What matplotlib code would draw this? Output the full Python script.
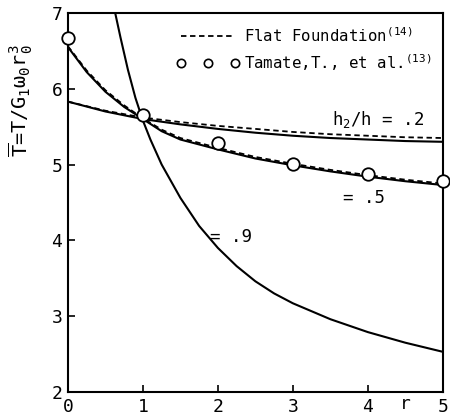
import matplotlib
matplotlib.use("Agg")
import matplotlib.pyplot as plt
from matplotlib.lines import Line2D

plt.rcParams['font.family'] = 'DejaVu Sans Mono'
plt.rcParams['mathtext.fontset'] = 'custom'
plt.rcParams['mathtext.rm'] = 'DejaVu Sans Mono'
plt.rcParams['mathtext.it'] = 'DejaVu Sans Mono'

# h2/h = .2
g_02 = [0.0, 0.5, 1.0, 1.5, 2.0, 2.5, 3.0, 3.5, 4.0, 4.5, 5.0]
t_02 = [5.83, 5.70, 5.60, 5.53, 5.47, 5.42, 5.38, 5.35, 5.33, 5.31, 5.30]
t_02_flat = [5.83, 5.71, 5.62, 5.56, 5.51, 5.47, 5.43, 5.40, 5.38, 5.36, 5.35]

# h2/h = .5
g_05 = [0.0, 0.25, 0.5, 0.75, 1.0, 1.25, 1.5, 2.0, 2.5, 3.0, 3.5, 4.0, 4.5, 5.0]
t_05 = [6.55, 6.22, 5.96, 5.76, 5.60, 5.44, 5.33, 5.20, 5.08, 4.99, 4.91, 4.84, 4.78, 4.73]
t_05_flat = [6.56, 6.24, 5.98, 5.78, 5.61, 5.46, 5.35, 5.22, 5.10, 5.01, 4.93, 4.86, 4.80, 4.75]

# h2/h = .9
g_09 = [0.63, 0.70, 0.80, 0.90, 1.00, 1.10, 1.25, 1.50, 1.75, 2.00, 2.25,
        2.50, 2.75, 3.00, 3.50, 4.00, 4.50, 5.00]
t_09 = [7.00, 6.68, 6.25, 5.88, 5.58, 5.33, 5.00, 4.56, 4.19, 3.90, 3.66,
        3.46, 3.30, 3.17, 2.96, 2.79, 2.65, 2.53]

# Tamate et al. points
g_exp = [0, 1, 2, 3, 4, 5]
t_exp = [6.67, 5.66, 5.28, 5.01, 4.87, 4.78]

fig = plt.figure(figsize=(4.5, 4.17), dpi=100)
ax = fig.add_axes([0.151, 0.060, 0.833, 0.909])

ax.plot(g_02, t_02, color='black', lw=1.5)
ax.plot(g_02, t_02_flat, color='black', lw=1.3, dashes=(3, 2))
ax.plot(g_05, t_05, color='black', lw=1.5)
ax.plot(g_05, t_05_flat, color='black', lw=1.3, dashes=(3, 2))
ax.plot(g_09, t_09, color='black', lw=1.5)
ax.plot(g_exp, t_exp, 'o', mfc='white', mec='black', ms=9, mew=1.3,
        clip_on=False, zorder=5)

ax.set_xlim(0, 5)
ax.set_ylim(2, 7)
ax.set_xticks([0, 1, 2, 3, 4, 5])
ax.set_yticks([2, 3, 4, 5, 6, 7])
ax.tick_params(direction='in', length=5, width=1.2, labelsize=13, pad=4)
for s in ax.spines.values():
    s.set_linewidth(1.5)

ax.text(3.52, 5.59, 'h$_2$/h = .2', fontsize=12.5, va='center')
ax.text(3.67, 4.56, '= .5', fontsize=12.5, va='center')
ax.text(1.89, 4.04, '= .9', fontsize=12.5, va='center')
fig.text(405 / 450, 1 - 404 / 417, 'r', fontsize=13, ha='center', va='center')
fig.text(21 / 450, 1 - 101 / 417, r'$\overline{T}$=T/G$_1\omega_0$r$_0^3$',
         fontsize=14.5, rotation=90, ha='center', va='center')

handles = [Line2D([], [], color='black', lw=1.3, dashes=(3, 2)),
           Line2D([], [], ls='none', marker='o', mfc='white', mec='black',
                  ms=6, mew=1.2)]
labels = ['Flat Foundation$^{(14)}$', 'Tamate,T., et al.$^{(13)}$']
ax.legend(handles, labels, numpoints=3, handlelength=4.0, handletextpad=0.3,
          frameon=False, fontsize=11.3, loc='upper left',
          bbox_to_anchor=(0.29, 0.965), borderaxespad=0, borderpad=0,
          labelspacing=0.45)

fig.savefig('out.png', dpi=100)
